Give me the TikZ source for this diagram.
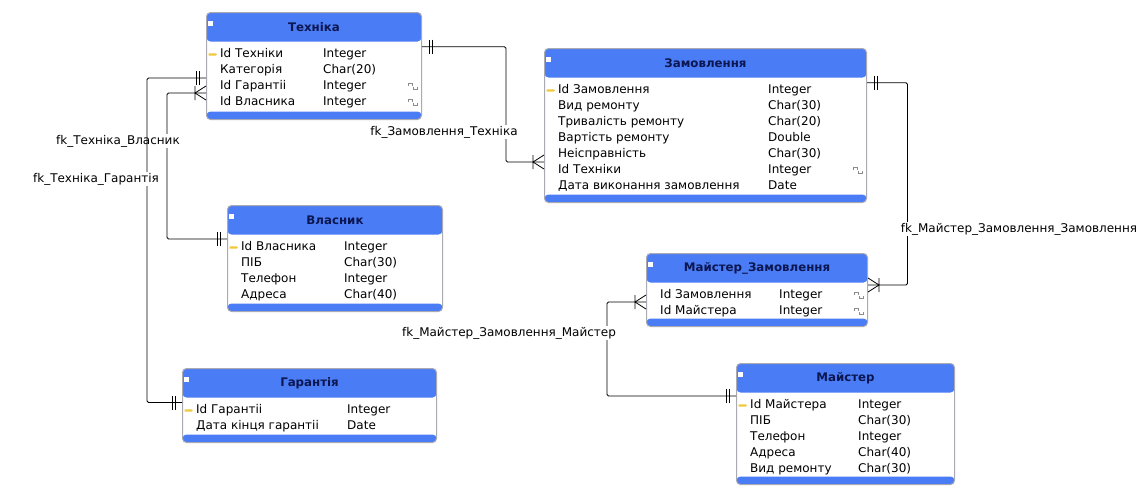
\documentclass[tikz,border=0pt]{standalone}
\usepackage{fontspec}
\setmainfont{DejaVu Sans}

\definecolor{hdrblue}{RGB}{74,124,245}
\definecolor{hdrtext}{RGB}{12,22,80}
\definecolor{edgegray}{RGB}{170,170,178}
\definecolor{keyyellow}{RGB}{240,200,60}

\tikzset{
  entity/.style={draw=edgegray, line width=1pt, rounded corners=4pt, fill=white,
    inner sep=0pt, anchor=north west,
    path picture={
      \fill[hdrblue] (path picture bounding box.north west) rectangle ([yshift=-29pt]path picture bounding box.north east);
      \fill[hdrblue] (path picture bounding box.south west) rectangle ([yshift=8pt]path picture bounding box.south east);}},
  etitle/.style={font=\bfseries\fontsize{11.8}{13}\selectfont, text=hdrtext, inner sep=0pt},
  field/.style={anchor=west, inner sep=0pt, text height=8.5pt, text depth=2.5pt},
  rel/.style={line width=0.8pt, rounded corners=1.5pt},
  rellabel/.style={fill=white, inner sep=1.5pt},
  onebar/.pic={\draw[line width=0.8pt] (-7,-7) -- (-7,7) (-10,-7) -- (-10,7);},
  crowfoot/.pic={\draw[line width=0.8pt] (0,7) -- (-11,0) -- (0,-7) (-11,-7) -- (-11,7);},
  fkmark/.pic={\draw[black!45, line width=0.5pt] (-4.5,0.5) -- (-4.5,3.5) -- (-1,3.5) -- (-1,0.5)
    (0.5,0) -- (0.5,-3) -- (4,-3) -- (4,0);},
  pkmark/.pic={\fill[keyyellow] (-4,-1.2) -- (3,-1.2) -- (4.5,0) -- (3,1.2) -- (-4,1.2) -- cycle;}
}

% name, north west corner, width, height, title, type column, fields
\newcommand{\erentity}[7]{%
  \node[entity, minimum width=#3, minimum height=#4] (#1) at (#2) {};
  \node[etitle] (#1-title) at ([yshift=-15pt]#1.north) {#5};
  \fill[white] ([xshift=2pt,yshift=-9pt]#1.north west) rectangle ++(5,-5);
  \foreach \fname/\ftype [count=\i] in {#7} {
    \node[field] (#1-\i) at ([xshift=14pt,yshift={-42.5pt-16pt*(\i-1)}]#1.north west) {\fname};
    \node[field] (#1-\i-t) at ([xshift=#6pt,yshift={-42.5pt-16pt*(\i-1)}]#1.north west) {\ftype};
  }
}

\begin{document}
\begin{tikzpicture}[x=1pt, y=1pt, font=\fontsize{12}{14}\selectfont]
    \useasboundingbox (0,0) rectangle (1142,-490);

    % tables
    \erentity{tech}{206,-12}{215pt}{107pt}{Техніка}{117}
      {Id Техніки/Integer, Категорія/Char(20), Id Гарантіі/Integer, Id Власника/Integer}
    \erentity{ord}{544,-48}{322pt}{154pt}{Замовлення}{224}
      {Id Замовлення/Integer, Вид ремонту/Char(30), Тривалість ремонту/Char(20),
       Вартість ремонту/Double, Неісправність/Char(30), Id Техніки/Integer,
       Дата виконання замовлення/Date}
    \erentity{vl}{227,-205}{215pt}{106pt}{Власник}{117}
      {Id Власника/Integer, ПІБ/Char(30), Телефон/Integer, Адреса/Char(40)}
    \erentity{gar}{182,-368}{254pt}{74pt}{Гарантія}{165}
      {Id Гарантіі/Integer, Дата кінця гарантіі/Date}
    \erentity{mz}{646,-253}{221pt}{73pt}{Майстер\_Замовлення}{133}
      {Id Замовлення/Integer, Id Майстера/Integer}
    \erentity{mst}{736,-363}{218pt}{121pt}{Майстер}{122}
      {Id Майстера/Integer, ПІБ/Char(30), Телефон/Integer, Адреса/Char(40), Вид ремонту/Char(30)}

    % key and foreign key marks
    \pic at ([xshift=6.5pt]tech.west |- tech-1) {pkmark};
    \pic at ([xshift=6.5pt]ord.west |- ord-1) {pkmark};
    \pic at ([xshift=6.5pt]vl.west |- vl-1) {pkmark};
    \pic at ([xshift=6.5pt]gar.west |- gar-1) {pkmark};
    \pic at ([xshift=6.5pt]mst.west |- mst-1) {pkmark};
    \pic at ([xshift=-9pt]tech.east |- tech-3) {fkmark};
    \pic at ([xshift=-9pt]tech.east |- tech-4) {fkmark};
    \pic at ([xshift=-9pt]ord.east |- ord-6) {fkmark};
    \pic at ([xshift=-9pt]mz.east |- mz-1) {fkmark};
    \pic at ([xshift=-9pt]mz.east |- mz-2) {fkmark};

    % fk_Замовлення_Техніка
    \draw[rel] ([yshift=-34.7pt]tech.north east) coordinate (tech-o)
               -- ++(84,0) |- ([yshift=-114pt]ord.north west) coordinate (ord-i);
    \pic[rotate=180] at (tech-o) {onebar};
    \pic at (ord-i) {crowfoot};
    \node[rellabel] (l-ord-tech) at (444,-132) {fk\_Замовлення\_Техніка};

    % fk_Майстер_Замовлення_Замовлення
    \draw[rel] ([yshift=-34.7pt]ord.north east) coordinate (ord-o)
               -- ++(40.5,0) |- ([yshift=-32pt]mz.north east) coordinate (mz-o);
    \pic[rotate=180] at (ord-o) {onebar};
    \pic[rotate=180] at (mz-o) {crowfoot};
    \node[rellabel] (l-mz-ord) at (1019,-229) {fk\_Майстер\_Замовлення\_Замовлення};

    % fk_Майстер_Замовлення_Майстер
    \draw[rel] ([yshift=-49pt]mz.north west) coordinate (mz-i)
               -- ++(-39,0) |- ([yshift=-33pt]mst.north west) coordinate (mst-i);
    \pic at (mz-i) {crowfoot};
    \pic at (mst-i) {onebar};
    \node[rellabel] (l-mz-mst) at (509,-333) {fk\_Майстер\_Замовлення\_Майстер};

    % fk_Техніка_Власник
    \draw[rel] ([yshift=-81pt]tech.north west) coordinate (tech-v)
               -- ++(-39,0) |- ([yshift=-34pt]vl.north west) coordinate (vl-i);
    \pic at (tech-v) {crowfoot};
    \pic at (vl-i) {onebar};
    \node[rellabel] (l-tech-vl) at (118,-141) {fk\_Техніка\_Власник};

    % fk_Техніка_Гарантія
    \draw[rel] ([yshift=-66pt]tech.north west) coordinate (tech-g)
               -- ++(-59,0) |- ([yshift=-34.5pt]gar.north west) coordinate (gar-i);
    \pic at (tech-g) {onebar};
    \pic at (gar-i) {onebar};
    \node[rellabel] (l-tech-gar) at (96,-179) {fk\_Техніка\_Гарантія};

\end{tikzpicture}
\end{document}
